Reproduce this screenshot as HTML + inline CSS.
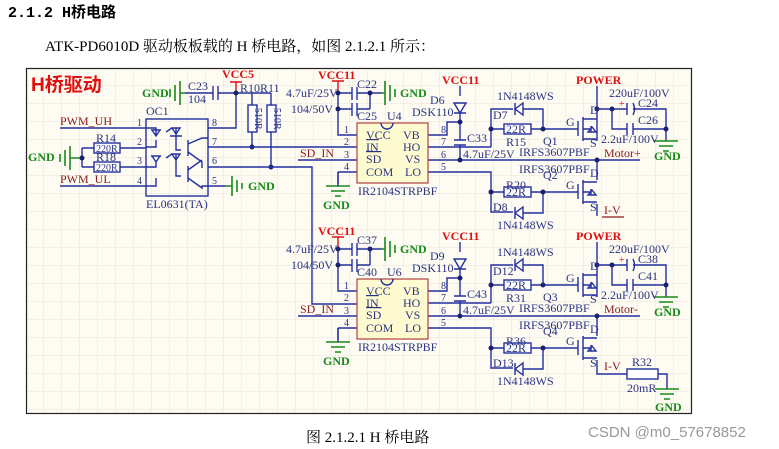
<!DOCTYPE html>
<html><head><meta charset="utf-8"><style>
html,body{margin:0;padding:0;background:#fff;width:779px;height:449px;overflow:hidden}
svg{display:block}
text{font-family:"Liberation Serif","Noto Serif CJK SC",serif;font-size:12px}
.w{stroke:#2430a0;stroke-width:1.4;fill:none}
.b{fill:#2b3482}
.r{fill:#e01010}
.g{fill:#1a8a1a;font-weight:bold}
.m{fill:#8b1a1a}
.rs{stroke:#e01010;stroke-width:1.4;fill:none}
.gs{stroke:#1a8a1a;stroke-width:1.6;fill:none}
.ks{stroke:#333;stroke-width:1.2}
.box{fill:#fffbd0;stroke:#b04040;stroke-width:1.2}
.res{fill:#fff;stroke:#2430a0;stroke-width:1.4}
.dot{fill:#1a2070}
</style></head><body>
<svg width="779" height="449" viewBox="0 0 779 449" xmlns="http://www.w3.org/2000/svg">
<defs>
<pattern id="grid" width="18" height="18" patternUnits="userSpaceOnUse" x="26" y="68">
<path d="M18 0V18M0 18H18" stroke="#e6e3d6" stroke-width="1" fill="none"/>
</pattern>
</defs>
<text x="8" y="17" style="font-size:15px;font-weight:bold;font-family:'Liberation Mono','Noto Sans CJK SC',monospace">2.1.2  H桥电路</text>
<text x="45" y="51" style="font-size:15px">ATK-PD6010D 驱动板板载的 H 桥电路，如图 2.1.2.1 所示：</text>
<rect x="26.5" y="68.5" width="665" height="345" fill="#fdfbf2" stroke="#222" stroke-width="1.2"/>
<rect x="27" y="69" width="664" height="344" fill="url(#grid)"/>
<text x="306" y="442" style="font-size:15px">图 2.1.2.1 H 桥电路</text>
<text x="588" y="437" style="font-size:15px;font-family:'Liberation Sans','Noto Sans CJK SC',sans-serif" fill="#999">CSDN @m0_57678852</text>

<text x="31" y="91" style="font-size:19px;font-weight:bold;font-family:'Liberation Sans','Noto Sans CJK SC',sans-serif" fill="#e01010">H桥驱动</text>

<!-- Left optocoupler section -->
<text class="g" x="142" y="97">GND</text>
<path class="gs" d="M170 89v8M175 85v16M180 81v24M180 93h5"/>
<path class="w" d="M185 93h28M218 93h18M213 86v14M218 86v14"/>
<text class="b" x="188" y="90">C23</text><text class="b" x="188" y="103">104</text>
<text class="r" x="222" y="78" style="font-weight:bold">VCC5</text>
<path class="rs" d="M230 82h12M236 82v11"/>
<path class="w" d="M236 93h35M252 93v12M271 93v12M252 132v15M271 132v35M208 128h28V93"/>
<rect class="res" x="248" y="105" width="9" height="27"/><rect class="res" x="267" y="105" width="9" height="27"/>
<text class="b" x="240" y="92">R10</text><text class="b" x="260" y="92">R11</text>
<text class="b" transform="translate(255,108) rotate(90)" style="font-size:10px">510R</text>
<text class="b" transform="translate(274,108) rotate(90)" style="font-size:10px">510R</text>
<circle class="dot" cx="236" cy="93" r="2.5"/><circle class="dot" cx="252" cy="147" r="2.5"/><circle class="dot" cx="271" cy="167" r="2.5"/>
<text class="b" x="146" y="115">OC1</text>
<rect x="146" y="119" width="62" height="77" fill="none" stroke="#2430a0" stroke-width="1.4"/>
<text class="b" x="146" y="208">EL0631(TA)</text>
<path class="w" d="M60 128h86M60 186h86M208 147h149M208 167h104V304h45M208 186h18"/>
<text class="m" x="60" y="125">PWM_UH</text><text class="m" x="60" y="183">PWM_UL</text>
<text class="b" x="137" y="126" style="font-size:10px">1</text><text class="b" x="137" y="145" style="font-size:10px">2</text>
<text class="b" x="137" y="164" style="font-size:10px">3</text><text class="b" x="137" y="184" style="font-size:10px">4</text>
<text class="b" x="212" y="126" style="font-size:10px">8</text><text class="b" x="212" y="145" style="font-size:10px">7</text>
<text class="b" x="212" y="164" style="font-size:10px">6</text><text class="b" x="212" y="184" style="font-size:10px">5</text>
<path class="gs" d="M226 186h6M232 176v20M237 180v12M242 183v6"/>
<text class="g" x="248" y="190">GND</text>
<text class="g" x="28" y="161">GND</text>
<path class="gs" d="M60 154v8M65 150v16M70 146v24M70 158h12"/>
<path class="w" d="M82 148v19M82 148h12M82 167h12M120 148h26M120 167h26"/>
<circle class="dot" cx="82" cy="158" r="2.5"/>
<rect class="res" x="94" y="143" width="26" height="10"/><rect class="res" x="94" y="162" width="26" height="10"/>
<text class="b" x="96" y="142">R14</text><text class="b" x="96" y="152" style="font-size:10px">220R</text>
<text class="b" x="96" y="161">R18</text><text class="b" x="96" y="171" style="font-size:10px">220R</text>
<!-- opto internals -->
<path class="w" d="M146 147h10V140M146 167h10v-5M146 128h10v8M146 186h10v-8M156 136l-4-6h8zM156 162l-4-6h8zM151 130h10M151 156h10M166 132l6-4M166 158l6-4M176 128v22h5M176 154v22h5M170 136h12M176 134l-4 -6h8zM176 160l-4-6h8zM188 140v16M188 166v16M188 144l14-6h6M188 152l14 10v6M188 170l14-10M188 178l14 10v-2h6"/>

<!-- Upper driver -->
<g id="drv">
<path class="rs" d="M332 81h12M338 81v12"/>
<path class="w" d="M338 93h14M357 93h13M338 109h14M357 109h13M352 87v13M357 87v13M352 103v13M357 103v13M370 93v16M370 93h12M338 93v42h19M298 160h59M338 172h19M338 172v12M428 135h19v-13h13M428 147h63M428 160h212M428 172h63v40h22M460 86v10M460 113v27M460 145v15M491 147v-38h22M523 109h20v20M491 129h13M531 129h47M491 192h13M531 192h47M543 192v21h-20M597 86v55M597 160v20M597 204v12"/>
<path class="gs" d="M382 93h3M385 81v24M390 85v16M395 89v8M338 184"/>
<path class="gs" d="M326 186h24M331 191h14M335 196h6"/>
<path class="w" d="M338 172v14"/>
<circle class="dot" cx="338" cy="93" r="2.5"/><circle class="dot" cx="338" cy="109" r="2.5"/><circle class="dot" cx="370" cy="93" r="2.5"/>
<rect class="box" x="357" y="123" width="71" height="60"/>
<path d="M381 123a6 6 0 0 0 12 0" fill="none" stroke="#2430a0" stroke-width="1.4"/>
<text class="b" x="366" y="139">VCC</text><text class="b" x="366" y="151" text-decoration="overline">IN</text>
<text class="b" x="366" y="163" text-decoration="overline">SD</text><text class="b" x="366" y="176">COM</text>
<text class="b" x="403" y="139">VB</text><text class="b" x="403" y="151">HO</text>
<text class="b" x="405" y="163">VS</text><text class="b" x="405" y="176">LO</text>
<text class="b" x="344" y="133" style="font-size:10px">1</text><text class="b" x="344" y="145" style="font-size:10px">2</text>
<text class="b" x="344" y="158" style="font-size:10px">3</text><text class="b" x="344" y="170" style="font-size:10px">4</text>
<text class="b" x="441" y="133" style="font-size:10px">8</text><text class="b" x="441" y="145" style="font-size:10px">7</text>
<text class="b" x="441" y="158" style="font-size:10px">6</text><text class="b" x="441" y="170" style="font-size:10px">5</text>
<text class="m" x="300" y="157">SD_IN</text>
<text class="b" x="358" y="195">IR2104STRPBF</text>
<path class="w" d="M454 103h12l-6 10zM454 113h12M454 140h12M454 145h12"/>
<circle class="dot" cx="460" cy="122" r="2.5"/><circle class="dot" cx="460" cy="160" r="2.5"/>
<circle class="dot" cx="491" cy="129" r="2.5"/><circle class="dot" cx="543" cy="129" r="2.5"/>
<circle class="dot" cx="491" cy="192" r="2.5"/><circle class="dot" cx="543" cy="192" r="2.5"/>
<path class="w" d="M523 103v12l-8-6zM515 103v12M523 207v12l-8-6zM515 207v12"/>
<rect class="res" x="504" y="124" width="27" height="10"/><rect class="res" x="504" y="187" width="27" height="10"/>
<text class="b" x="506" y="133">22R</text><text class="b" x="506" y="196">22R</text>
<!-- mosfets -->
<path class="w" d="M578 121v15M583 117v24M583 119h14M583 139h14M583 129h8M591 126v6M578 184v15M583 180v24M583 182h14M583 202h14M583 192h8M591 189v6"/>
<path class="w" d="M588 132l4-5 4 5zM588 195l4-5 4 5z" fill="#2430a0"/>
<circle class="dot" cx="597" cy="109" r="2.5"/><circle class="dot" cx="597" cy="160" r="2.5"/>
<path class="w" d="M597 109h30M612 109v20h15M633 109h33v32M633 129h33M627 103v12M627 123v12M633 123v12"/>
<path d="M633 103q3 6 0 12" fill="none" stroke="#2430a0" stroke-width="1.4"/>
<circle class="dot" cx="612" cy="109" r="2.5"/><circle class="dot" cx="666" cy="129" r="2.5"/>
<path class="gs" d="M654 141h24M659 146h14M663 151h6"/>
</g>
<text class="r" x="318" y="79" style="font-weight:bold">VCC11</text>
<text class="b" x="286" y="97">4.7uF/25V</text><text class="b" x="291" y="113">104/50V</text>
<text class="b" x="357" y="88">C22</text><text class="b" x="357" y="120">C25</text><text class="b" x="387" y="120">U4</text>
<text class="g" x="400" y="97">GND</text><text class="g" x="323" y="209">GND</text>
<text class="r" x="442" y="84" style="font-weight:bold">VCC11</text>
<text class="b" x="430" y="104">D6</text><text class="b" x="412" y="116">DSK110</text>
<text class="b" x="467" y="142">C33</text><text class="b" x="463" y="158">4.7uF/25V</text>
<text class="b" x="497" y="100">1N4148WS</text><text class="b" x="493" y="119">D7</text>
<text class="b" x="506" y="146">R15</text><text class="b" x="543" y="145">Q1</text><text class="b" x="519" y="156">IRFS3607PBF</text>
<text class="b" x="566" y="126">G</text><text class="b" x="590" y="114">D</text><text class="b" x="590" y="147">S</text>
<text class="r" x="576" y="84" style="font-weight:bold">POWER</text>
<text class="b" x="609" y="97">220uF/100V</text><text class="b" x="638" y="107">C24</text><text class="b" x="638" y="124">C26</text>
<text x="619" y="107" fill="#e01010" style="font-size:10px">+</text>
<text class="b" x="601" y="143">2.2uF/100V</text><text class="g" x="654" y="160">GND</text>
<text class="m" x="604" y="157">Motor+</text>
<text class="b" x="519" y="173">IRFS3607PBF</text><text class="b" x="543" y="179">Q2</text><text class="b" x="506" y="189">R20</text>
<text class="b" x="566" y="189">G</text><text class="b" x="590" y="177">D</text><text class="b" x="590" y="211">S</text>
<text class="b" x="493" y="211">D8</text><text class="b" x="497" y="229">1N4148WS</text>
<text class="m" x="604" y="214">I-V</text><path d="M602 217h22" stroke="#8b1a1a" stroke-width="1.2"/>

<!-- Lower driver -->
<use href="#drv" transform="translate(0,156)"/>
<text class="r" x="318" y="235" style="font-weight:bold">VCC11</text>
<text class="b" x="286" y="253">4.7uF/25V</text><text class="b" x="291" y="269">104/50V</text>
<text class="b" x="357" y="244">C37</text><text class="b" x="357" y="276">C40</text><text class="b" x="387" y="276">U6</text>
<text class="g" x="400" y="253">GND</text><text class="g" x="323" y="365">GND</text>
<text class="r" x="442" y="240" style="font-weight:bold">VCC11</text>
<text class="b" x="430" y="260">D9</text><text class="b" x="412" y="272">DSK110</text>
<text class="b" x="467" y="298">C43</text><text class="b" x="463" y="314">4.7uF/25V</text>
<text class="b" x="497" y="256">1N4148WS</text><text class="b" x="493" y="275">D12</text>
<text class="b" x="506" y="302">R31</text><text class="b" x="543" y="301">Q3</text><text class="b" x="519" y="312">IRFS3607PBF</text>
<text class="b" x="566" y="282">G</text><text class="b" x="590" y="270">D</text><text class="b" x="590" y="303">S</text>
<text class="r" x="576" y="240" style="font-weight:bold">POWER</text>
<text class="b" x="609" y="253">220uF/100V</text><text class="b" x="638" y="263">C38</text><text class="b" x="638" y="280">C41</text>
<text x="619" y="263" fill="#e01010" style="font-size:10px">+</text>
<text class="b" x="601" y="299">2.2uF/100V</text><text class="g" x="654" y="316">GND</text>
<text class="m" x="604" y="313">Motor-</text>
<text class="b" x="519" y="329">IRFS3607PBF</text><text class="b" x="543" y="335">Q4</text><text class="b" x="506" y="345">R36</text>
<text class="b" x="566" y="345">G</text><text class="b" x="590" y="333">D</text><text class="b" x="590" y="367">S</text>
<text class="b" x="493" y="367">D13</text><text class="b" x="497" y="385">1N4148WS</text>
<text class="m" x="604" y="370">I-V</text>
<path class="w" d="M597 372v2h30M658 374h9v15"/>
<rect class="res" x="627" y="369" width="31" height="10"/>
<text class="b" x="632" y="366">R32</text><text class="b" x="627" y="392">20mR</text>
<path class="gs" d="M655 389h24M660 394h14M664 399h6"/>
<text class="g" x="655" y="411">GND</text>
</svg>
</body></html>
